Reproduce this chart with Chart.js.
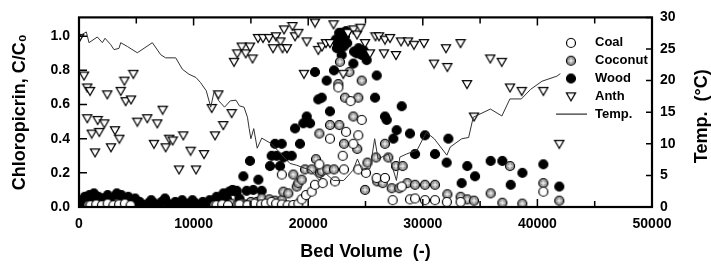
<!DOCTYPE html>
<html><head><meta charset="utf-8">
<script src="https://cdn.jsdelivr.net/npm/chart.js@4/dist/chart.umd.min.js"></script>
<style>html,body{margin:0;padding:0;background:#fff;}canvas{display:block;}</style>
</head><body>
<canvas id="c" width="711" height="266"></canvas>
<script>
// ---- data: [bed volume, C/C0] ----
const coal = [[1000,0.01],[1500,0.015],[2000,0.01],[2500,0.02],[3000,0.01],[3500,0.015],[4000,0.02],[4500,0.01],
 [12000,0.01],[12500,0.015],[13000,0.01],[14000,0.015],[14700,0.01],[15300,0.02],[15900,0.015],[16300,0.02],[16800,0.03],[17200,0.02],[17700,0.015],[18200,0.01],
 [17700,0.19],[18700,0.012],[19140,0.02],[19430,0.045],[19810,0.07],[20300,0.09],[20590,0.13],[21260,0.14],[22340,0.15],[20970,0.25],
 [21900,0.40],[22630,0.70],[23010,0.30],[23120,0.22],[23300,0.44],[23700,0.62],[23940,0.37],[24370,0.42],[24370,0.22],[24670,0.51],
 [25040,0.20],[25970,0.17],[26700,0.17],[27370,0.04],[28160,0.12],[28880,0.045],[29320,0.05],[30190,0.04],[31060,0.04],[32100,0.03],[33300,0.03],[40520,0.09]];
const coconut = [[800,0.01],[1300,0.005],[1800,0.01],[2300,0.005],[2800,0.01],[3300,0.02],[3800,0.01],
 [11800,0.01],[12300,0.005],[12800,0.01],[13300,0.02],[13800,0.01],[14200,0.02],[14600,0.015],[15000,0.03],
 [15510,0.03],[15940,0.05],[16610,0.045],[17100,0.037],[17690,0.04],[17830,0.09],[18260,0.08],[18700,0.19],[19000,0.12],[19140,0.14],
 [19430,0.16],[19720,0.22],[20300,0.22],[20680,0.28],[20970,0.43],[21030,0.20],[21180,0.21],[21670,0.22],[21900,0.48],[22250,0.22],
 [22630,0.72],[22710,0.48],[22770,0.85],[23120,0.37],[23210,0.64],[23590,0.79],[23940,0.53],[24280,0.34],[24370,0.64],[24670,0.74],
 [24960,0.10],[25170,0.26],[25920,0.29],[26030,0.15],[26500,0.14],[26700,0.37],[26990,0.29],[27290,0.11],[27660,0.24],[27950,0.11],
 [28240,0.24],[28650,0.14],[29320,0.13],[30190,0.13],[31060,0.13],[32140,0.075],[33300,0.06],[33880,0.045],[34470,0.037],[35920,0.08],
 [36940,0.025],[37610,0.24],[38680,0.02],[40520,0.14],[41910,0.037]];
const wood = [[0,0.01],[300,0.03],[500,0.06],[700,0.02],[900,0.07],[1100,0.04],[1300,0.08],[1500,0.03],[1700,0.06],[1900,0.02],
 [2100,0.05],[2300,0.03],[2500,0.07],[2700,0.04],[2900,0.02],[3100,0.06],[3300,0.08],[3500,0.03],[3700,0.07],[3900,0.05],
 [4100,0.02],[4300,0.06],[4500,0.04],[4700,0.02],[4900,0.05],[5100,0.02],[5300,0.03],[5600,0.01],[6000,0.02],[6300,0.04],
 [6600,0.02],[6900,0.01],[7200,0.03],[7500,0.05],[7800,0.02],[8100,0.01],[8400,0.03],[8700,0.02],[9000,0.04],[9300,0.01],
 [9600,0.02],[9900,0.04],[10200,0.02],[10500,0.01],[10800,0.03],[11100,0.02],[11400,0.04],[11700,0.02],[12000,0.06],[12300,0.04],
 [12600,0.08],[12900,0.05],[13100,0.09],[13400,0.10],[13700,0.09],[14000,0.05],
 [13350,0.095],[13760,0.095],[14340,0.18],[14630,0.095],[14920,0.27],[15210,0.10],[15650,0.16],[15940,0.095],[16670,0.24],[16810,0.30],
 [17100,0.37],[17250,0.30],[17540,0.24],[17690,0.37],[17830,0.29],[18090,0.30],[18560,0.30],[18850,0.46],[19280,0.37],[19570,0.49],
 [19870,0.53],[20160,0.49],[20590,0.79],[20880,0.63],[21180,0.64],[21610,0.74],[21900,0.56],[22250,0.80],[22770,0.97],[22920,0.89],
 [23210,1.00],[23000,1.02],[22600,0.95],[23400,0.96],[22400,0.98],[22700,1.02],[23300,1.03],[22500,0.93],[23100,0.94],
 [23940,0.84],[24230,0.90],[24670,0.89],[24960,0.90],[25100,0.86],[24400,0.93],[24000,0.91],[24800,0.92],
 [25830,0.64],[25980,0.77],[26700,0.53],[26850,0.51],[27430,0.40],[27720,0.45],[28160,0.59],[28880,0.43],[29320,0.31],[30190,0.42],
 [31060,0.31],[32080,0.26],[32230,0.40],[33390,0.14],[33880,0.24],[34560,0.18],[35920,0.27],[36940,0.27],[37670,0.13],[38690,0.20],
 [40520,0.25],[41910,0.12]];
const anth = [[0,0.99],[440,0.77],[720,0.70],[960,0.68],[720,0.52],[1110,0.43],[1400,0.32],[1630,0.51],[1770,0.44],[2210,0.49],
 [2470,0.66],[2790,0.35],[3140,0.45],[3520,0.40],[3640,0.68],[3960,0.74],[4070,0.62],[4540,0.63],[4740,0.78],[5090,0.50],
 [5960,0.52],[6540,0.37],[6830,0.49],[7300,0.57],[7560,0.35],[7880,0.40],[8170,0.39],[8730,0.22],[9100,0.42],[9740,0.33],
 [10210,0.22],[10910,0.31],[11580,0.58],[11870,0.42],[12160,0.66],[12590,0.48],[13320,0.55],[13530,0.85],[13810,0.90],[14200,0.94],
 [14550,0.90],[14920,0.94],[15140,0.87],[15620,0.99],[16060,0.99],[16580,0.99],[16930,0.93],[17190,1.00],[17580,0.97],[17760,0.93],
 [18150,0.93],[17890,1.04],[18630,1.06],[18850,1.00],[19140,1.02],[19870,0.97],[20590,1.08],[19630,0.78],[20880,0.92],[21200,0.94],
 [21550,0.96],[21900,0.96],[22210,1.07],[23060,0.78],[23470,1.02],[23950,1.04],[24260,1.01],[24560,1.05],[24960,0.96],[25390,0.90],
 [25870,1.00],[26180,1.00],[26610,0.90],[26700,0.98],[27140,0.99],[27660,0.89],[28100,0.97],[28710,0.97],[29230,0.95],[30100,0.96],
 [30980,0.84],[32020,0.93],[32140,0.82],[33290,0.96],[33860,0.72],[34470,0.53],[35890,0.87],[36890,0.85],[37610,0.70],[38630,0.68],
 [40520,0.68],[41910,0.37]];
// ---- data: [bed volume, temperature °C] ----
const temp = [[0,27.0],[640,27.7],[870,26.0],[1600,26.9],[2040,26.0],[2270,26.7],[2760,25.7],[3060,24.9],[3490,25.1],[3640,26.0],
 [4220,25.4],[5090,24.4],[6400,26.0],[7130,24.1],[7560,23.6],[8440,23.6],[9020,21.8],[9600,21.0],[10200,20.5],[10600,19.7],
 [11100,18.4],[11500,15.8],[11800,18.4],[12200,16.8],[12700,15.8],[13200,16.8],[13700,16.9],[14000,16.0],[14400,15.8],[14700,14.2],
 [14850,12.4],[15000,10.8],[15250,12.4],[15550,9.3],[15950,10.9],[16800,10.0],[18400,6.9],[19000,6.6],[20200,5.8],[21000,4.2],
 [21400,5.5],[22200,4.2],[23100,4.2],[23900,5.8],[24300,7.6],[24700,5.8],[25400,6.1],[25800,10.8],[26100,7.6],[27000,8.4],
 [27700,4.2],[28000,7.9],[28600,8.4],[29500,9.0],[30300,11.8],[31000,10.8],[32100,8.2],[32400,9.5],[33400,10.8],[34000,11.0],
 [34400,14.2],[35900,15.5],[36900,14.4],[37600,17.1],[38600,17.1],[39400,18.6],[40400,19.9],[41700,20.7],[42000,21.1]];
const xTickValues = [0,5000,10000,15000,20000,25000,30000,35000,40000,45000,50000];
const yTickValues = [0,0.2,0.4,0.6,0.8,1.0];
const y2TickValues = [0,5,10,15,20,25,30];
const seriesNames = ['Coal','Coconut','Wood','Anth','Temp.'];

const toPts = a => a.map(p => ({x:p[0], y:p[1]}));

function marker(kind){
  const s = 12, cv = document.createElement('canvas'); cv.width = s; cv.height = s;
  const g = cv.getContext('2d'); g.translate(s/2, s/2);
  g.lineWidth = 1.2; g.strokeStyle = '#000';
  if (kind === 'tri') {
    g.beginPath(); g.moveTo(-4.6,-3.4); g.lineTo(4.6,-3.4); g.lineTo(0,4.6); g.closePath();
    g.fillStyle = '#fff'; g.fill(); g.stroke();
  } else {
    g.beginPath(); g.arc(0,0,4.5,0,Math.PI*2);
    g.fillStyle = kind === 'wood' ? '#000' : (kind === 'coco' ? '#9a9a9a' : '#fff');
    g.fill(); g.stroke();
    if (kind === 'coco') {
      g.strokeStyle = '#fff'; g.lineWidth = 1;
      g.beginPath(); g.moveTo(-2.6,0); g.lineTo(2.6,0); g.moveTo(0,-2.6); g.lineTo(0,2.6); g.stroke();
    }
  }
  return cv;
}
const mCoal = marker('coal'), mCoco = marker('coco'), mWood = marker('wood'), mAnth = marker('tri');

const FONT = '"Liberation Sans", Arial, sans-serif';

const decor = {
  id: 'decor',
  afterDraw(chart) {
    const ctx = chart.ctx, a = chart.chartArea;
    const xs = chart.scales.x, yl = chart.scales.y, yr = chart.scales.y2;
    ctx.save();
    ctx.strokeStyle = '#000';
    ctx.lineWidth = 1.5;
    ctx.beginPath();
    xTickValues.forEach(v => {
      const px = xs.getPixelForValue(v), len = v % 10000 === 0 ? 8 : 6;
      ctx.moveTo(px, a.bottom); ctx.lineTo(px, a.bottom - len);
      ctx.moveTo(px, a.top); ctx.lineTo(px, a.top + len);
    });
    yTickValues.forEach(v => { const py = yl.getPixelForValue(v); ctx.moveTo(a.left, py); ctx.lineTo(a.left + 8, py); });
    y2TickValues.forEach(v => { const py = yr.getPixelForValue(v); ctx.moveTo(a.right, py); ctx.lineTo(a.right - 6, py); });
    ctx.stroke();
    ctx.lineWidth = 2.2;
    ctx.strokeRect(a.left, a.top, a.right - a.left, a.bottom - a.top);
    // legend
    const imgs = [mCoal, mCoco, mWood, mAnth];
    ctx.font = 'bold 13px ' + FONT; ctx.fillStyle = '#000'; ctx.textBaseline = 'middle'; ctx.textAlign = 'left';
    seriesNames.forEach((name, i) => {
      const y = a.top + 25.5 + i * 17.8;
      if (i < 4) ctx.drawImage(imgs[i], a.right - 87, y - 6);
      else { ctx.lineWidth = 1; ctx.beginPath(); ctx.moveTo(a.right - 96, y); ctx.lineTo(a.right - 65, y); ctx.stroke(); }
      ctx.fillText(name, a.right - 57, y);
    });
    // right axis title
    ctx.font = 'bold 18px ' + FONT; ctx.textAlign = 'center';
    ctx.translate(702, (a.top + a.bottom) / 2 + 4); ctx.rotate(-Math.PI / 2);
    ctx.fillText('Temp.  (°C)', 0, 0);
    ctx.restore();
  }
};

new Chart(document.getElementById('c'), {
  type: 'scatter',
  data: { datasets: [
    { label: 'Temp.', data: toPts(temp), yAxisID: 'y2', showLine: true, pointRadius: 0, borderColor: '#333', borderWidth: 1, tension: 0, order: 0 },
    { label: 'Anth', data: toPts(anth), yAxisID: 'y', pointStyle: mAnth, order: 1 },
    { label: 'Coal', data: toPts(coal), yAxisID: 'y', pointStyle: mCoal, order: 2 },
    { label: 'Coconut', data: toPts(coconut), yAxisID: 'y', pointStyle: mCoco, order: 3 },
    { label: 'Wood', data: toPts(wood), yAxisID: 'y', pointStyle: mWood, order: 4 }
  ]},
  options: {
    responsive: false, animation: false, events: [],
    layout: { padding: { top: 16, left: 0, right: 0, bottom: 0 } },
    plugins: { legend: { display: false }, tooltip: { enabled: false } },
    scales: {
      x: {
        type: 'linear', min: 0, max: 50000,
        grid: { display: false, drawTicks: false }, border: { display: false },
        ticks: { stepSize: 10000, autoSkip: false, maxRotation: 0, padding: 9, color: '#000',
          font: { family: FONT, size: 14, weight: 'bold' }, callback: v => String(v) },
        title: { display: true, text: 'Bed Volume  (-)', color: '#000', font: { family: FONT, size: 18, weight: 'bold' }, padding: { top: 0, bottom: 3 } },
        afterFit: s => { s.height = 59; }
      },
      y: {
        position: 'left', min: 0, max: 1.11,
        grid: { display: false, drawTicks: false }, border: { display: false },
        afterBuildTicks: s => { s.ticks = yTickValues.map(v => ({ value: v })); },
        ticks: { padding: 9, color: '#000', font: { family: FONT, size: 14, weight: 'bold' }, callback: v => Number(v).toFixed(1) },
        title: { display: true, text: 'Chloropicrin, C/C₀', color: '#000', font: { family: FONT, size: 18, weight: 'bold' }, padding: { top: 9, bottom: 0 } },
        afterFit: s => { s.width = 79; }
      },
      y2: {
        position: 'right', min: 0, max: 30,
        grid: { display: false, drawTicks: false }, border: { display: false },
        afterBuildTicks: s => { s.ticks = y2TickValues.map(v => ({ value: v })); },
        ticks: { padding: 8, color: '#000', font: { family: FONT, size: 14, weight: 'bold' }, callback: v => String(v) },
        afterFit: s => { s.width = 59; }
      }
    }
  },
  plugins: [decor]
});
</script>
</body></html>
